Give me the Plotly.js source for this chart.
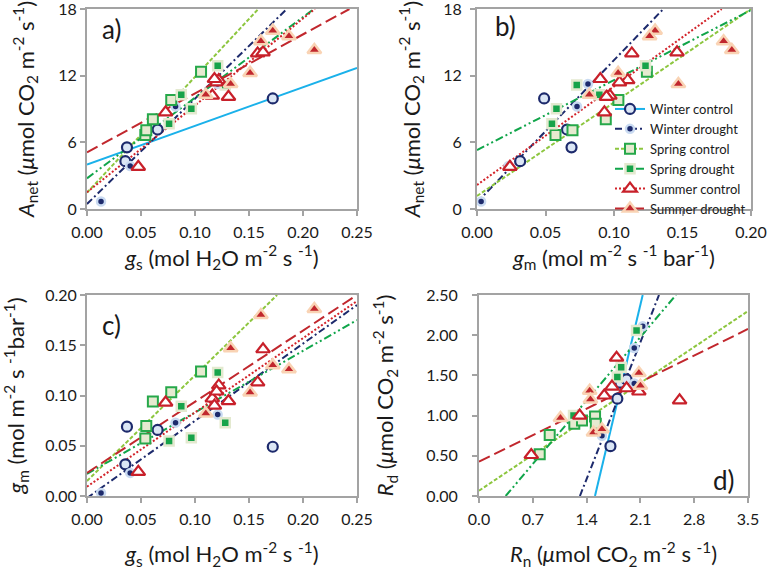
<!DOCTYPE html>
<html>
<head>
<meta charset="utf-8">
<script src="https://cdn.plot.ly/plotly-3.0.1.min.js"></script>
<style>html,body{margin:0;padding:0;background:#fff;}#chart{width:771px;height:570px;}</style>
</head>
<body>
<div id="chart"></div>
<script>
// ---------- Data ----------
// Group names (legend)
const groups = ["Winter control", "Winter drought", "Spring control", "Spring drought", "Summer control", "Summer drought"];

// Panels a-c: stomatal conductance gs, mesophyll conductance gm, net assimilation Anet
const winterCtrl_gs = [0.0355, 0.037, 0.0654, 0.172];
const winterCtrl_gm = [0.0315, 0.069, 0.0657, 0.049];
const winterCtrl_A  = [4.3, 5.55, 7.15, 9.95];

const winterDr_gs = [0.013, 0.040, 0.082, 0.121];
const winterDr_gm = [0.003, 0.023, 0.073, 0.081];
const winterDr_A  = [0.68, 3.87, 9.23, 11.25];

const springCtrl_gs = [0.054, 0.0549, 0.061, 0.078, 0.1056];
const springCtrl_gm = [0.0573, 0.0697, 0.094, 0.1032, 0.124];
const springCtrl_A  = [6.66, 7.08, 8.08, 9.8, 12.35];

const springDr_gs = [0.076, 0.0873, 0.0966, 0.121, 0.128];
const springDr_gm = [0.0547, 0.0893, 0.058, 0.123, 0.0728];
const springDr_A  = [7.68, 10.28, 9.03, 12.9, 11.16];

const summerCtrl_gs = [0.0475, 0.0728, 0.116, 0.131, 0.122, 0.120, 0.158, 0.163, 0.118];
const summerCtrl_gm = [0.024, 0.093, 0.097, 0.0945, 0.110, 0.104, 0.113, 0.146, 0.090];
const summerCtrl_A  = [3.8, 8.7, 10.2, 10.1, 11.6, 11.4, 14.0, 14.1, 11.7];

const summerDr_gs = [0.110, 0.133, 0.151, 0.161, 0.172, 0.187, 0.2105];
const summerDr_gm = [0.082, 0.147, 0.103, 0.180, 0.130, 0.126, 0.186];
const summerDr_A  = [10.28, 11.25, 12.25, 15.1, 16.05, 15.55, 14.3];

// Panel d: Rn (x) and Rd (y)
const winterCtrl_Rn = [1.71, 1.80, 1.84, 1.92];
const winterCtrl_Rd = [0.62, 1.21, 1.41, 1.45];
const winterDr_Rn = [1.60, 2.02, 2.13, 2.02];
const winterDr_Rd = [0.75, 1.84, 2.11, 1.40];
const springCtrl_Rn = [0.79, 0.92, 1.24, 1.34, 1.51, 1.52];
const springCtrl_Rd = [0.52, 0.76, 0.90, 0.94, 0.99, 0.90];
const springDr_Rn = [1.23, 1.80, 1.85, 2.05];
const springDr_Rd = [1.00, 1.48, 1.60, 2.06];
const summerCtrl_Rn = [0.68, 1.31, 1.63, 1.73, 1.79, 1.92, 2.08, 2.61];
const summerCtrl_Rd = [0.51, 1.00, 1.25, 1.36, 1.72, 1.34, 1.30, 1.19];
const summerDr_Rn = [1.06, 1.44, 1.45, 1.49, 1.60, 2.08, 2.10];
const summerDr_Rd = [0.97, 1.31, 1.20, 0.79, 0.83, 1.53, 1.37];

// Regression lines, endpoints: [x0, x1], [y0, y1]
const fitA_x = { wc: [0, 0.25], wd: [0, 0.185], sc: [0, 0.1586], sd: [0, 0.21], uc: [0, 0.211], ud: [0, 0.243] };
const fitA_y = { wc: [4.0, 12.7], wd: [0.45, 18], sc: [1.47, 18], sd: [2.76, 18], uc: [1.5, 18], ud: [5.1, 18] };
const fitB_x = { wd: [0, 0.136], sc: [0, 0.2], sd: [0, 0.2], uc: [0, 0.1786] };
const fitB_y = { wd: [0.6, 18], sc: [1.17, 18], sd: [5.3, 17.9], uc: [2.16, 18] };
const fitC_x = { wd: [0, 0.25], sc: [0, 0.176], sd: [0, 0.25], uc: [0, 0.25], ud: [0, 0.25] };
const fitC_y = { wd: [-0.002, 0.19], sc: [0.015, 0.20], sd: [0.022, 0.175], uc: [0.0093, 0.194], ud: [0.023, 0.20] };
const fitD_x = { wc: [1.509, 2.13], wd: [1.313, 2.342], sc: [0, 3.5], sd: [0.347, 2.563], ud: [0, 3.5] };
const fitD_y = { wc: [0, 2.5], wd: [0, 2.5], sc: [0.066, 2.30], sd: [0, 2.5], ud: [0.427, 2.077] };

// Axis ticks
const ticksA_x = [0, 0.05, 0.10, 0.15, 0.20, 0.25];
const ticksA_y = [0, 6, 12, 18];
const ticksB_x = [0, 0.05, 0.10, 0.15, 0.20];
const ticksC_y = [0, 0.05, 0.10, 0.15, 0.20];
const ticksD_x = [0, 0.7, 1.4, 2.1, 2.8, 3.5];
const ticksD_y = [0, 0.5, 1.0, 1.5, 2.0, 2.5];

// ---------- Styles ----------
const FONT = "Lato, 'Open Sans', sans-serif";
const navy = '#1d2a6c';
const styles = {
  wc: { line: { color: '#1ab1ea', width: 2, dash: 'solid' },
        marker: { symbol: 'circle', size: 10, color: '#dbe6f5', line: { color: navy, width: 2.2 } } },
  wd: { line: { color: navy, width: 2, dash: '7px,3px,2px,3px' },
        marker: { symbol: 'circle', size: 8, color: navy, line: { color: '#c9daf1', width: 2.5 } } },
  sc: { line: { color: '#8dc63f', width: 2, dash: '4px,2px' },
        marker: { symbol: 'square', size: 10, color: '#e6ead0', line: { color: '#26a84a', width: 2 } } },
  sd: { line: { color: '#10a54a', width: 2, dash: '8px,3px,2px,3px,2px,3px' },
        marker: { symbol: 'square', size: 9, color: '#17a34a', line: { color: '#e3e9cf', width: 2.5 } } },
  uc: { line: { color: '#d2232a', width: 2, dash: '2px,2px' },
        marker: { symbol: 'triangle-up', size: 12, color: '#ffffff', line: { color: '#c8202a', width: 2.2 } } },
  ud: { line: { color: '#c1272d', width: 2, dash: '12px,5px' },
        marker: { symbol: 'triangle-up', size: 12, color: '#c1272d', line: { color: '#f9d3b4', width: 2.5 } } }
};
const keys = ['wc', 'wd', 'sc', 'sd', 'uc', 'ud'];

const pts = {
  a: { wc: [winterCtrl_gs, winterCtrl_A], wd: [winterDr_gs, winterDr_A], sc: [springCtrl_gs, springCtrl_A],
       sd: [springDr_gs, springDr_A], uc: [summerCtrl_gs, summerCtrl_A], ud: [summerDr_gs, summerDr_A] },
  b: { wc: [winterCtrl_gm, winterCtrl_A], wd: [winterDr_gm, winterDr_A], sc: [springCtrl_gm, springCtrl_A],
       sd: [springDr_gm, springDr_A], uc: [summerCtrl_gm, summerCtrl_A], ud: [summerDr_gm, summerDr_A] },
  c: { wc: [winterCtrl_gs, winterCtrl_gm], wd: [winterDr_gs, winterDr_gm], sc: [springCtrl_gs, springCtrl_gm],
       sd: [springDr_gs, springDr_gm], uc: [summerCtrl_gs, summerCtrl_gm], ud: [summerDr_gs, summerDr_gm] },
  d: { wc: [winterCtrl_Rn, winterCtrl_Rd], wd: [winterDr_Rn, winterDr_Rd], sc: [springCtrl_Rn, springCtrl_Rd],
       sd: [springDr_Rn, springDr_Rd], uc: [summerCtrl_Rn, summerCtrl_Rd], ud: [summerDr_Rn, summerDr_Rd] }
};
const fits = { a: [fitA_x, fitA_y], b: [fitB_x, fitB_y], c: [fitC_x, fitC_y], d: [fitD_x, fitD_y] };
const axisOf = { a: ['x', 'y'], b: ['x2', 'y2'], c: ['x3', 'y3'], d: ['x4', 'y4'] };

const traces = [];
// fit lines first (under the markers)
for (const p of ['a', 'b', 'c', 'd']) {
  const [fx, fy] = fits[p];
  for (const k of keys) {
    if (!fx[k]) continue;
    traces.push({ type: 'scatter', mode: 'lines', x: fx[k], y: fy[k], xaxis: axisOf[p][0], yaxis: axisOf[p][1],
      line: styles[k].line, showlegend: false, hoverinfo: 'skip' });
  }
}
// markers
for (const p of ['a', 'b', 'c', 'd']) {
  keys.forEach((k) => {
    const [xs, ys] = pts[p][k];
    traces.push({ type: 'scatter', mode: 'markers', x: xs, y: ys, xaxis: axisOf[p][0], yaxis: axisOf[p][1],
      marker: styles[k].marker, showlegend: false, cliponaxis: false });
  });
}
// legend entries (line + marker)
keys.forEach((k, i) => {
  traces.push({ type: 'scatter', mode: 'lines+markers', x: [null], y: [null], xaxis: 'x2', yaxis: 'y2',
    name: groups[i], line: styles[k].line, marker: styles[k].marker, showlegend: true });
});

const W = 771, H = 570;
const dom = (a, b, total) => [a / total, b / total];
const tickFont = { family: FONT, size: 16, color: '#1a1a1a' };
const titleFont = { family: FONT, size: 22, color: '#1a1a1a' };
function ax(extra) {
  return Object.assign({
    showline: true, linecolor: '#a3a3a3', linewidth: 2, mirror: true,
    ticks: 'outside', ticklen: 5, tickwidth: 2, tickcolor: '#a3a3a3',
    showgrid: false, zeroline: false, tickfont: tickFont, automargin: false, fixedrange: true,
    ticklabeloverflow: 'allow'
  }, extra);
}

const layout = {
  width: W, height: H,
  margin: { l: 0, r: 0, t: 0, b: 0 },
  paper_bgcolor: '#ffffff', plot_bgcolor: '#ffffff',
  font: { family: FONT, color: '#1a1a1a' },
  showlegend: true,
  legend: { x: 610 / W, y: 1 - 94 / H, xanchor: 'left', yanchor: 'top', bgcolor: 'rgba(255,255,255,0)',
    font: { family: FONT, size: 13, color: '#1a1a1a' }, tracegroupgap: 0, itemwidth: 30 },
  xaxis: ax({ domain: dom(87, 357, W), anchor: 'y', range: [0, 0.25], tickvals: ticksA_x, tickformat: '.2f', ticklabelstandoff: 3,
    title: { text: '<i>g</i><sub>s</sub> (mol H<sub>2</sub>O m<sup>-2</sup> s <sup>-1</sup>)', font: titleFont, standoff: 10 } }),
  yaxis: ax({ domain: [1 - 209 / H, 1 - 9 / H], anchor: 'x', range: [0, 18], tickvals: ticksA_y,
    title: { text: '<i>A</i><sub>net</sub> (<i>μ</i>mol CO<sub>2</sub> m<sup>-2</sup> s<sup>-1</sup>)', font: titleFont, standoff: 18 } }),
  xaxis2: ax({ domain: dom(477, 751, W), anchor: 'y2', range: [0, 0.2], tickvals: ticksB_x, tickformat: '.2f', ticklabelstandoff: 3,
    title: { text: '<i>g</i><sub>m</sub> (mol m<sup>-2</sup> s <sup>-1</sup> bar<sup>-1</sup>)', font: titleFont, standoff: 10 } }),
  yaxis2: ax({ domain: [1 - 209 / H, 1 - 9 / H], anchor: 'x2', range: [0, 18], tickvals: ticksA_y, ticklabelstandoff: 5,
    title: { text: '<i>A</i><sub>net</sub> (<i>μ</i>mol CO<sub>2</sub> m<sup>-2</sup> s<sup>-1</sup>)', font: titleFont, standoff: 17 } }),
  xaxis3: ax({ domain: dom(87, 357, W), anchor: 'y3', range: [0, 0.25], tickvals: ticksA_x, tickformat: '.2f', ticklabelstandoff: 3,
    title: { text: '<i>g</i><sub>s</sub> (mol H<sub>2</sub>O m<sup>-2</sup> s <sup>-1</sup>)', font: titleFont, standoff: 27 } }),
  yaxis3: ax({ domain: [1 - 496 / H, 1 - 295 / H], anchor: 'x3', range: [0, 0.2], tickvals: ticksC_y, tickformat: '.2f',
    title: { text: '<i>g</i><sub>m</sub> (mol m<sup>-2</sup> s <sup>-1</sup>bar<sup>-1</sup>)', font: titleFont, standoff: 24 } }),
  xaxis4: ax({ domain: dom(479, 748, W), anchor: 'y4', range: [0, 3.5], tickvals: ticksD_x, tickformat: '.1f', ticklabelstandoff: 3,
    title: { text: '<i>R</i><sub>n</sub> (<i>μ</i>mol CO<sub>2</sub> m<sup>-2</sup> s <sup>-1</sup>)', font: titleFont, standoff: 27 } }),
  yaxis4: ax({ domain: [1 - 496 / H, 1 - 295 / H], anchor: 'x4', range: [0, 2.5], tickvals: ticksD_y, tickformat: '.2f', ticklabelstandoff: 11,
    title: { text: '<i>R</i><sub>d</sub> (<i>μ</i>mol CO<sub>2</sub> m<sup>-2</sup> s<sup>-1</sup>)', font: titleFont, standoff: 26 } }),
  annotations: [
    { text: 'a)', xref: 'x domain', yref: 'y domain', x: 0.09, y: 0.9, xanchor: 'center', yanchor: 'middle', showarrow: false, font: { family: FONT, size: 26, color: '#1a1a1a' } },
    { text: 'b)', xref: 'x2 domain', yref: 'y2 domain', x: 0.105, y: 0.915, xanchor: 'center', yanchor: 'middle', showarrow: false, font: { family: FONT, size: 26, color: '#1a1a1a' } },
    { text: 'c)', xref: 'x3 domain', yref: 'y3 domain', x: 0.09, y: 0.85, xanchor: 'center', yanchor: 'middle', showarrow: false, font: { family: FONT, size: 26, color: '#1a1a1a' } },
    { text: 'd)', xref: 'x4 domain', yref: 'y4 domain', x: 0.91, y: 0.08, xanchor: 'center', yanchor: 'middle', showarrow: false, font: { family: FONT, size: 26, color: '#1a1a1a' } }
  ]
};

Plotly.newPlot('chart', traces, layout, { displayModeBar: false, staticPlot: true });
</script>
</body>
</html>
